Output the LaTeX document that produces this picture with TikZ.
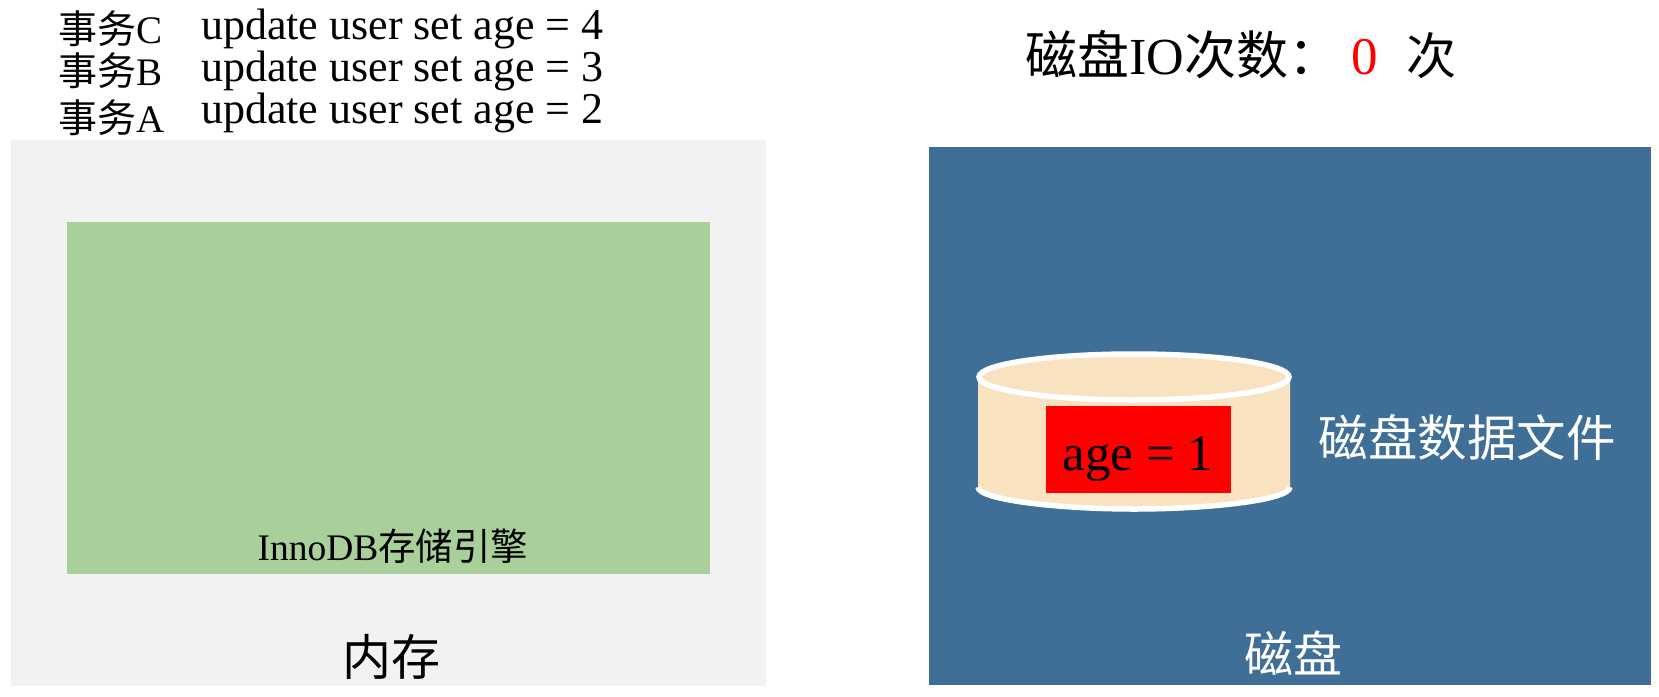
\documentclass[tikz,border=0pt]{standalone}
\usepackage{fontspec}
\setmainfont{Liberation Serif}
\newfontfamily\cjk{Noto Sans CJK SC}
\definecolor{grayback}{HTML}{F2F2F2}
\definecolor{greenbox}{HTML}{A9D09B}
\definecolor{bluebox}{HTML}{3F6F97}
\definecolor{cylfill}{HTML}{F8E2BF}
\tikzset{
  panel/.style={draw=none,inner sep=0pt,anchor=north west},
  txt/.style={inner sep=0pt,anchor=base west,text=black},
  lbl/.style={inner sep=0pt,anchor=base,text=black},
  cylline/.style={draw=white,line width=5.5pt}
}
\newcommand{\fs}[1]{\fontsize{#1}{#1}\selectfont}
\begin{document}
\begin{tikzpicture}[x=1pt,y=-1pt]
\useasboundingbox (0,0) rectangle (1659,696);
\node[panel,fill=grayback,minimum width=755pt,minimum height=546pt] (mem) at (11,140) {};
\node[panel,fill=greenbox,minimum width=643pt,minimum height=352pt] (inno) at (67,222) {};
\node[panel,fill=bluebox,minimum width=722pt,minimum height=538pt] (disk) at (929,147) {};
% cylinder
\path[fill=cylfill] (978,373) -- (978,487) .. controls (978,500) and (1060,509) .. (1134,509) .. controls (1210,509) and (1290,500) .. (1290,487) -- (1290,373) -- cycle;
\draw[cylline,fill=cylfill] (1134,377) ellipse[x radius=155,y radius=23];
\draw[cylline] (978,487) .. controls (978,500) and (1060,509) .. (1134,509) .. controls (1210,509) and (1290,500) .. (1290,487);
\node[panel,fill=red,minimum width=184.5pt,minimum height=87pt] (val) at (1046,406) {};
\node[lbl] (valt) at (1138,470) {\fs{51}age = 1};
\node[txt] (tc) at (58,43) {\fs{39}\cjk 事务\rmfamily C};
\node[txt] (tb) at (58,85) {\fs{39}\cjk 事务\rmfamily B};
\node[txt] (ta) at (58,132) {\fs{39}\cjk 事务\rmfamily A};
\node[txt] (uc) at (201,39.5) {\fs{44}update user set age = 4};
\node[txt] (ub) at (201,81.5) {\fs{44}update user set age = 3};
\node[txt] (ua) at (201,123.5) {\fs{44}update user set age = 2};
\node[lbl] (inl) at (393,560) {\fs{37.5}InnoDB\cjk 存储引擎};
\node[lbl] (mm) at (391,675) {\cjk\fs{49}内存};
\node[lbl] (io) at (1183,74) {\fs{52}\cjk 磁盘\rmfamily IO\cjk 次数：};
\node[lbl,text=red] (zero) at (1365,74) {\fs{53}0};
\node[lbl] (ci) at (1431,74) {\cjk\fs{50}次};
\node[lbl,text=white] (dl) at (1293,672) {\cjk\fs{49}磁盘};
\node[lbl,text=white] (df) at (1467,456) {\cjk\fs{49.5}磁盘数据文件};
\end{tikzpicture}
\end{document}
